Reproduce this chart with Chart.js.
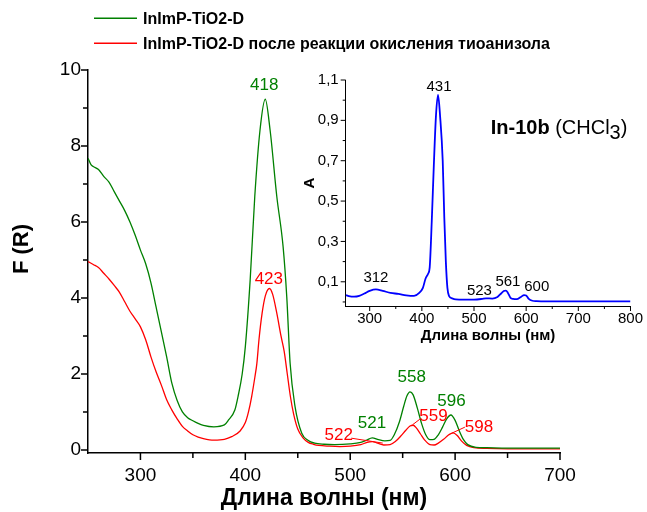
<!DOCTYPE html>
<html>
<head>
<meta charset="utf-8">
<title>InImP-TiO2-D spectra</title>
<script src="https://cdn.jsdelivr.net/npm/chart.js@4.4.1/dist/chart.umd.min.js"></script>
<style>
  body { margin: 0; background: #fff; }
  .wrap { position: relative; width: 647px; height: 512px; }
  .wrap canvas { position: absolute; left: 0; top: 0; }
</style>
</head>
<body>
<div class="wrap">
  <canvas id="main" width="647" height="512"></canvas>
  <canvas id="inset" width="647" height="512"></canvas>
</div>
<script>
// main chart: InImP-TiO2-D before / after thioanisole oxidation
var greenX = [250, 253, 255, 260, 265, 270, 275, 280, 285, 290, 295, 300, 305, 310, 315, 320, 325, 330, 335, 340, 345, 350, 355, 360, 370, 380, 384, 390, 393, 397, 400, 404.6, 409, 414, 419, 423.6, 430, 436, 439.5, 442.7, 447.4, 453.8, 460, 466, 475, 485, 500, 510, 515, 521, 527, 533, 538, 542, 547, 551, 554, 557, 560, 564, 568, 572, 576, 580, 584, 588, 592, 596, 600, 604, 608, 612, 620, 630, 650, 700];
var greenY = [7.68, 7.5, 7.46, 7.38, 7.2, 7.05, 6.8, 6.55, 6.3, 6.0, 5.65, 5.26, 4.9, 4.4, 3.75, 3.1, 2.45, 1.75, 1.3, 1.0, 0.85, 0.77, 0.7, 0.65, 0.61, 0.66, 0.79, 1.05, 1.4, 2.0, 2.72, 4.47, 6.67, 8.42, 9.23, 8.42, 6.67, 5.35, 4.03, 2.28, 1.14, 0.44, 0.25, 0.18, 0.15, 0.14, 0.16, 0.2, 0.25, 0.32, 0.27, 0.24, 0.25, 0.4, 0.75, 1.15, 1.42, 1.53, 1.45, 1.1, 0.7, 0.4, 0.27, 0.28, 0.4, 0.6, 0.82, 0.92, 0.78, 0.5, 0.27, 0.14, 0.07, 0.06, 0.05, 0.05];

var redX = [250, 255, 260, 265, 270, 275, 280, 285, 290, 295, 300, 305, 310, 315, 320, 325, 330, 335, 340, 345, 350, 355, 360, 370, 380, 387, 395, 400, 403, 406, 409, 411, 413, 416, 419, 423, 426, 430, 434, 437, 440, 443, 446, 450, 455, 460, 465, 470, 480, 490, 500, 510, 516, 521, 526, 532, 538, 543, 548, 553, 557, 560, 563, 567, 571, 576, 580, 584, 589, 594, 598, 602, 606, 611, 618, 630, 650, 700];
var redY = [4.96, 4.88, 4.8, 4.65, 4.5, 4.33, 4.15, 3.9, 3.65, 3.45, 3.24, 2.9, 2.45, 2.05, 1.7, 1.32, 1.05, 0.82, 0.62, 0.5, 0.4, 0.34, 0.3, 0.26, 0.28, 0.35, 0.5, 0.72, 1.0, 1.4, 1.9, 2.28, 2.9, 3.6, 4.05, 4.25, 4.1, 3.6, 3.0, 2.6, 2.0, 1.4, 0.95, 0.55, 0.32, 0.2, 0.15, 0.12, 0.1, 0.09, 0.1, 0.14, 0.2, 0.22, 0.18, 0.13, 0.14, 0.22, 0.36, 0.52, 0.63, 0.65, 0.58, 0.42, 0.26, 0.14, 0.13, 0.18, 0.28, 0.4, 0.45, 0.38, 0.24, 0.12, 0.06, 0.04, 0.03, 0.03];

var greenPeaks = [418, 558, 596, 521];
var redPeaks = [423, 522, 559, 598];
var mainXTicks = [300, 400, 500, 600, 700];
var mainYTicks = [0, 2, 4, 6, 8, 10];

// inset: In-10b in CHCl3
var blueX = [254, 260, 270, 280, 290, 300, 312, 325, 340, 355, 370, 385, 395, 402, 407, 412, 415, 419, 423, 427, 431, 435, 440, 443, 446, 449, 452, 458, 465, 480, 500, 515, 523, 535, 545, 552, 557, 561, 565, 570, 575, 582, 590, 596, 600, 605, 612, 620, 640, 700, 800];
var blueY = [0.034, 0.029, 0.026, 0.03, 0.042, 0.055, 0.062, 0.055, 0.045, 0.04, 0.033, 0.03, 0.045, 0.07, 0.115, 0.14, 0.17, 0.4, 0.68, 0.92, 1.026, 0.92, 0.7, 0.42, 0.2, 0.07, 0.03, 0.018, 0.013, 0.012, 0.012, 0.015, 0.018, 0.017, 0.025, 0.042, 0.054, 0.056, 0.045, 0.02, 0.015, 0.014, 0.025, 0.034, 0.032, 0.015, 0.006, 0.004, 0.003, 0.003, 0.003];
var bluePeaks = [431, 312, 523, 561, 600];
var insetXTicks = [300, 400, 500, 600, 700, 800];
var insetYTicks = [0.1, 0.3, 0.5, 0.7, 0.9, 1.1];

var GREEN = '#008000';
var RED = '#ff0000';
var BLUE = '#0000ff';
var FONT = "'Liberation Sans', Arial, sans-serif";

Chart.defaults.font.family = FONT;
Chart.defaults.color = '#000';

function toPoints(xs, ys) {
  return xs.map(function (x, i) { return {x: x, y: ys[i]}; });
}

// outward tick marks, major and minor
var axisTicks = {
  id: 'axisTicks',
  afterDraw: function (chart, args, o) {
    var ctx = chart.ctx, a = chart.chartArea, x = chart.scales.x, y = chart.scales.y;
    ctx.save();
    ctx.strokeStyle = '#000';
    ctx.lineWidth = o.width;
    ctx.beginPath();
    o.xMajor.forEach(function (v) { var p = x.getPixelForValue(v); ctx.moveTo(p, a.bottom); ctx.lineTo(p, a.bottom + o.major); });
    o.xMinor.forEach(function (v) { var p = x.getPixelForValue(v); ctx.moveTo(p, a.bottom); ctx.lineTo(p, a.bottom + o.minor); });
    o.yMajor.forEach(function (v) { var p = y.getPixelForValue(v); ctx.moveTo(a.left, p); ctx.lineTo(a.left - o.major, p); });
    o.yMinor.forEach(function (v) { var p = y.getPixelForValue(v); ctx.moveTo(a.left, p); ctx.lineTo(a.left - o.minor, p); });
    ctx.stroke();
    ctx.restore();
  }
};

// peak value labels (+ leader lines), placed in data coordinates
var peakLabels = {
  id: 'peakLabels',
  afterDatasetsDraw: function (chart, args, o) {
    var ctx = chart.ctx, x = chart.scales.x, y = chart.scales.y;
    ctx.save();
    ctx.font = o.font;
    ctx.textAlign = 'center';
    ctx.textBaseline = 'middle';
    o.items.forEach(function (it) {
      ctx.fillStyle = it.color;
      ctx.fillText(String(it.text), x.getPixelForValue(it.at[0]), y.getPixelForValue(it.at[1]));
      if (it.leader) {
        ctx.strokeStyle = it.color;
        ctx.lineWidth = 1;
        ctx.beginPath();
        ctx.moveTo(x.getPixelForValue(it.leader[0]), y.getPixelForValue(it.leader[1]));
        ctx.lineTo(x.getPixelForValue(it.leader[2]), y.getPixelForValue(it.leader[3]));
        ctx.stroke();
      }
    });
    ctx.restore();
  }
};

// free text: legend, rotated y titles, inset caption
var extraText = {
  id: 'extraText',
  afterDraw: function (chart, args, o) {
    var ctx = chart.ctx;
    ctx.save();
    (o.legend || []).forEach(function (l) {
      ctx.strokeStyle = l.color;
      ctx.lineWidth = 1.5;
      ctx.beginPath();
      ctx.moveTo(94, l.y);
      ctx.lineTo(137, l.y);
      ctx.stroke();
      ctx.fillStyle = '#000';
      ctx.font = 'bold 16px ' + FONT;
      ctx.textAlign = 'left';
      ctx.textBaseline = 'middle';
      ctx.fillText(l.text, 143, l.y + 1);
    });
    if (o.yTitle) {
      ctx.translate(o.yTitle.x, o.yTitle.y);
      ctx.rotate(-Math.PI / 2);
      ctx.font = o.yTitle.font;
      ctx.fillStyle = '#000';
      ctx.textAlign = 'center';
      ctx.textBaseline = 'middle';
      ctx.fillText(o.yTitle.text, 0, 0);
      ctx.setTransform(1, 0, 0, 1, 0, 0);
    }
    if (o.caption) {
      var cx = 490.7, cy = 128;
      ctx.fillStyle = '#000';
      ctx.textAlign = 'left';
      ctx.textBaseline = 'middle';
      ctx.font = 'bold 20px ' + FONT;
      ctx.fillText('In-10b', cx, cy);
      cx += ctx.measureText('In-10b ').width;
      ctx.font = '20px ' + FONT;
      ctx.fillText('(CHCl', cx, cy);
      cx += ctx.measureText('(CHCl').width;
      ctx.fillText('3', cx, cy + 5);
      cx += ctx.measureText('3').width;
      ctx.fillText(')', cx, cy);
    }
    ctx.restore();
  }
};

new Chart(document.getElementById('main'), {
  type: 'line',
  data: {
    datasets: [
      {label: 'InImP-TiO2-D', data: toPoints(greenX, greenY), borderColor: GREEN, borderWidth: 1.3, pointRadius: 0, cubicInterpolationMode: 'monotone'},
      {label: 'InImP-TiO2-D после реакции окисления тиоанизола', data: toPoints(redX, redY), borderColor: RED, borderWidth: 1.3, pointRadius: 0, cubicInterpolationMode: 'monotone'}
    ]
  },
  plugins: [axisTicks, peakLabels, extraText],
  options: {
    responsive: false,
    animation: false,
    layout: {padding: {left: 0, top: 70, right: 87, bottom: 0}},
    plugins: {
      legend: {display: false},
      tooltip: {enabled: false},
      axisTicks: {width: 1.5, major: 7, minor: 5, xMajor: mainXTicks, xMinor: [350, 450, 550, 650], yMajor: mainYTicks, yMinor: [1, 3, 5, 7, 9]},
      peakLabels: {
        font: '17px ' + FONT,
        items: [
          {text: greenPeaks[0], color: GREEN, at: [418, 9.6]},
          {text: greenPeaks[1], color: GREEN, at: [558.6, 1.91]},
          {text: greenPeaks[2], color: GREEN, at: [596.5, 1.27]},
          {text: greenPeaks[3], color: GREEN, at: [520.8, 0.69]},
          {text: redPeaks[0], color: RED, at: [422.4, 4.5]},
          {text: redPeaks[1], color: RED, at: [489, 0.39], leader: [501, 0.31, 531, 0.18]},
          {text: redPeaks[2], color: RED, at: [579.3, 0.89], leader: [566.4, 0.81, 559.3, 0.66]},
          {text: redPeaks[3], color: RED, at: [622.7, 0.6], leader: [609.3, 0.6, 596.7, 0.44]}
        ]
      },
      extraText: {
        legend: [
          {color: GREEN, y: 18.3, text: 'InImP-TiO2-D'},
          {color: RED, y: 43.3, text: 'InImP-TiO2-D после реакции окисления тиоанизола'}
        ],
        yTitle: {text: 'F (R)', x: 22, y: 249, font: 'bold 22px ' + FONT}
      }
    },
    scales: {
      x: {
        type: 'linear', min: 250, max: 700,
        afterFit: function (s) { s.height = 59; },
        afterBuildTicks: function (s) { s.ticks = mainXTicks.map(function (v) { return {value: v}; }); },
        grid: {display: false, drawTicks: false},
        border: {display: true, color: '#000', width: 1.5},
        ticks: {font: {size: 19}, padding: 11, maxRotation: 0, autoSkip: false, callback: function (v) { return v; }},
        title: {display: true, text: 'Длина волны (нм)', font: {size: 23, weight: 'bold'}, padding: {top: 0, bottom: 0}}
      },
      y: {
        type: 'linear', min: -0.08, max: 10,
        afterFit: function (s) { s.width = 88; },
        afterBuildTicks: function (s) { s.ticks = mainYTicks.map(function (v) { return {value: v}; }); },
        grid: {display: false, drawTicks: false},
        border: {display: true, color: '#000', width: 1.5},
        ticks: {font: {size: 19}, padding: 7, callback: function (v) { return v; }}
      }
    }
  }
});

new Chart(document.getElementById('inset'), {
  type: 'line',
  data: {
    datasets: [
      {label: 'In-10b', data: toPoints(blueX, blueY), borderColor: BLUE, borderWidth: 1.8, pointRadius: 0, cubicInterpolationMode: 'monotone'}
    ]
  },
  plugins: [axisTicks, peakLabels, extraText],
  options: {
    responsive: false,
    animation: false,
    layout: {padding: {left: 300, top: 80, right: 13.7, bottom: 166}},
    plugins: {
      legend: {display: false},
      tooltip: {enabled: false},
      axisTicks: {width: 1, major: 5, minor: 3, xMajor: insetXTicks, xMinor: [350, 450, 550, 650, 750], yMajor: insetYTicks, yMinor: [0, 0.2, 0.4, 0.6, 0.8, 1.0]},
      peakLabels: {
        font: '15px ' + FONT,
        items: [
          {text: bluePeaks[0], color: '#000', at: [432.9, 1.067]},
          {text: bluePeaks[1], color: '#000', at: [312, 0.118]},
          {text: bluePeaks[2], color: '#000', at: [510.4, 0.054]},
          {text: bluePeaks[3], color: '#000', at: [565, 0.1]},
          {text: bluePeaks[4], color: '#000', at: [620.3, 0.075]}
        ]
      },
      extraText: {
        yTitle: {text: 'A', x: 310, y: 183, font: 'bold 15px ' + FONT},
        caption: true
      }
    },
    scales: {
      x: {
        type: 'linear', min: 254, max: 800,
        afterFit: function (s) { s.height = 40; },
        afterBuildTicks: function (s) { s.ticks = insetXTicks.map(function (v) { return {value: v}; }); },
        grid: {display: false, drawTicks: false},
        border: {display: true, color: '#000', width: 1},
        ticks: {font: {size: 15}, padding: 4, maxRotation: 0, autoSkip: false, callback: function (v) { return v; }},
        title: {display: true, text: 'Длина волны (нм)', font: {size: 15, weight: 'bold'}, padding: {top: 0, bottom: 1}}
      },
      y: {
        type: 'linear', min: -0.02, max: 1.1,
        afterFit: function (s) { s.width = 45.7; },
        afterBuildTicks: function (s) { s.ticks = insetYTicks.map(function (v) { return {value: v}; }); },
        grid: {display: false, drawTicks: false},
        border: {display: true, color: '#000', width: 1},
        ticks: {font: {size: 15}, padding: 7, callback: function (v) { return v.toFixed(1).replace('.', ','); }}
      }
    }
  }
});
</script>
</body>
</html>
